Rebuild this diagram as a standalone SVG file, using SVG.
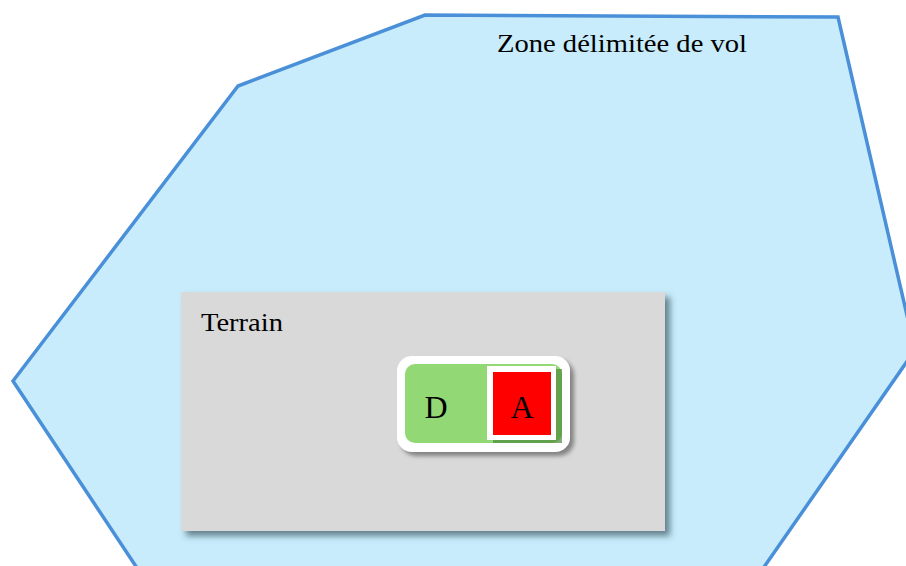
<svg xmlns="http://www.w3.org/2000/svg" width="906" height="566" viewBox="0 0 906 566">
<defs>
<filter id="sh" x="-10%" y="-10%" width="130%" height="130%">
<feGaussianBlur in="SourceAlpha" stdDeviation="3"/>
<feOffset dx="5" dy="5" result="b"/>
<feFlood flood-color="#3a5560" flood-opacity="0.7"/>
<feComposite in2="b" operator="in"/>
<feMerge><feMergeNode/><feMergeNode in="SourceGraphic"/></feMerge>
</filter>
<filter id="sh2" x="-10%" y="-10%" width="130%" height="130%">
<feGaussianBlur in="SourceAlpha" stdDeviation="2"/>
<feOffset dx="4" dy="4" result="b"/>
<feFlood flood-color="#000" flood-opacity="0.4"/>
<feComposite in2="b" operator="in"/>
<feMerge><feMergeNode/><feMergeNode in="SourceGraphic"/></feMerge>
</filter>
<filter id="sh3" x="-10%" y="-10%" width="130%" height="130%">
<feOffset dx="6" dy="3" in="SourceAlpha" result="b"/>
<feFlood flood-color="#4f8a3a" flood-opacity="0.7"/>
<feComposite in2="b" operator="in"/>
<feMerge><feMergeNode/><feMergeNode in="SourceGraphic"/></feMerge>
</filter>
</defs>
<style>
text { font-family: "Liberation Serif", serif; fill: #000; }
</style>
<g id="zone">
<polygon points="13,381 238,86 425,15 838,17 915,350 755,580 145,580" fill="#c8ecfb" stroke="#4a90d9" stroke-width="3.5" stroke-linejoin="miter"/>
<text x="497" y="52" font-size="25" textLength="250" lengthAdjust="spacingAndGlyphs">Zone délimitée de vol</text>
</g>
<g id="terrain">
<rect x="181" y="292" width="484" height="239" fill="#d9d9d9" filter="url(#sh)"/>
<text x="201" y="331" font-size="25" textLength="82" lengthAdjust="spacingAndGlyphs">Terrain</text>
</g>
<g id="node-DA">
<rect x="397" y="356" width="173" height="96" rx="15" fill="#ffffff" filter="url(#sh2)"/>
<rect x="405" y="364" width="157" height="79" rx="10" fill="#92d975"/>
<text x="436" y="418" font-size="32" text-anchor="middle">D</text>
<rect x="487" y="366" width="69" height="74" fill="#ffffff" filter="url(#sh3)"/>
<rect x="493" y="372" width="58" height="63" fill="#ff0000"/>
<text x="522" y="418" font-size="32" text-anchor="middle">A</text>
</g>
</svg>
